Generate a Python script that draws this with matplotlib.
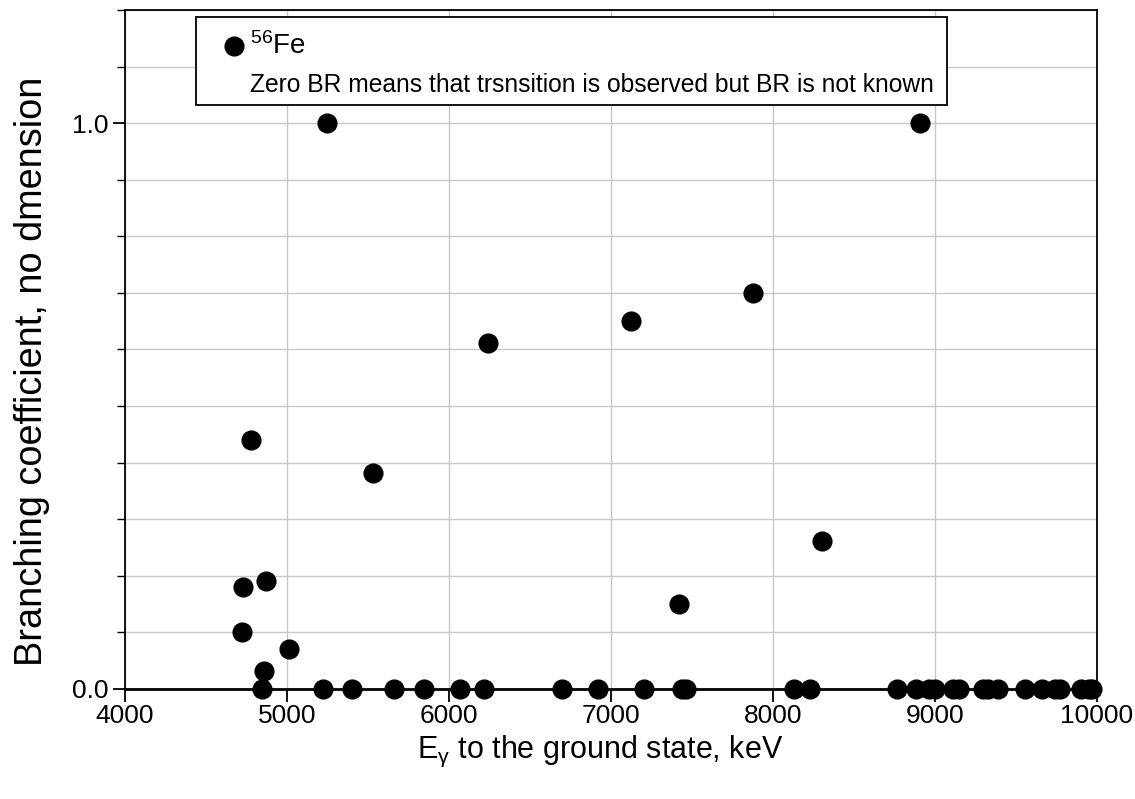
import matplotlib
matplotlib.use("Agg")
import matplotlib.pyplot as plt
from matplotlib.lines import Line2D
from matplotlib.patches import Rectangle
from matplotlib.ticker import MultipleLocator, FixedLocator

plt.rcParams['font.family'] = ['Liberation Sans', 'DejaVu Sans']
plt.rcParams['mathtext.fontset'] = 'custom'
plt.rcParams['mathtext.rm'] = 'Liberation Sans'
plt.rcParams['mathtext.it'] = 'Liberation Sans'

# 56Fe gamma transitions to the ground state: energy (keV) and branching ratio
energy_kev = [5249, 8907, 7877, 7125, 6242, 4775, 5531, 8305, 4728, 4870,
              7418, 4720, 5013, 4857,
              4844, 5223, 5400, 5658, 5847, 6070, 6214, 6695, 6921, 7206,
              7440, 7465, 8127, 8227, 8765, 8880, 8960, 9000, 9110, 9150,
              9295, 9330, 9390, 9555, 9660, 9740, 9770, 9900, 9950, 9970]
branching = [1.0, 1.0, 0.70, 0.651, 0.611, 0.44, 0.382, 0.261, 0.181, 0.191,
             0.151, 0.101, 0.071, 0.032,
             0, 0, 0, 0, 0, 0, 0, 0, 0, 0,
             0, 0, 0, 0, 0, 0, 0, 0, 0, 0,
             0, 0, 0, 0, 0, 0, 0, 0, 0, 0]

x_ticks = [4000, 5000, 6000, 7000, 8000, 9000, 10000]
y_ticks = [0.0, 1.0]

W, H = 1135, 799
fig = plt.figure(figsize=(W / 100, H / 100), dpi=100)
ax = fig.add_axes([125 / W, 110 / H, 972 / W, 679 / H])

ax.plot(energy_kev, branching, linestyle='none', marker='o', color='black',
        markersize=13.5, clip_on=False, zorder=5)

ax.set_xlim(4000, 10000)
ax.set_ylim(0, 1.2)
ax.xaxis.set_major_locator(FixedLocator(x_ticks))
ax.yaxis.set_major_locator(FixedLocator(y_ticks))
ax.yaxis.set_minor_locator(MultipleLocator(0.1))
ax.set_yticklabels([f"{v:.1f}" for v in y_ticks])

ax.grid(True, which='major', axis='x', color='#c8c8c8', linewidth=1.0)
ax.grid(True, which='both', axis='y', color='#c8c8c8', linewidth=1.0)
ax.set_axisbelow(True)

ax.tick_params(axis='both', which='major', direction='out', length=9, width=1.3,
               labelsize=19, colors='black')
ax.tick_params(axis='y', which='minor', direction='out', length=6, width=1.0)
ax.tick_params(axis='x', pad=2)
ax.tick_params(axis='y', pad=3)
for side in ['left', 'top', 'right']:
    ax.spines[side].set_linewidth(1.3)
ax.spines['bottom'].set_linewidth(2.0)

ax.set_xlabel(r"E$_{\mathregular{γ}}$ to the ground state, keV", fontsize=22)
ax.set_ylabel("Branching coefficient, no dmension", fontsize=27.3)
ax.xaxis.set_label_coords((600 - 125) / 972, -0.066)
ax.yaxis.set_label_coords((50 - 125) / 972, (689 - 371) / 679)

# key box in the upper left
fig.patches.append(Rectangle((196 / W, 1 - 105 / H), (947 - 196) / W, 88 / H,
                             transform=fig.transFigure, facecolor='white',
                             edgecolor='black', linewidth=1.3, zorder=10))
fig.lines.append(Line2D([234 / W], [1 - 46 / H], transform=fig.transFigure,
                        linestyle='none', marker='o', color='black',
                        markersize=13.5, zorder=11))
fig.text(250 / W, 1 - 46 / H, r"$\mathregular{^{56}}$Fe", fontsize=20,
         va='center', ha='left', zorder=11)
fig.text(250 / W, 1 - 85 / H,
         "Zero BR means that trsnsition is observed but BR is not known",
         fontsize=17.7, va='center', ha='left', zorder=11)

fig.savefig("out.png", dpi=100)
